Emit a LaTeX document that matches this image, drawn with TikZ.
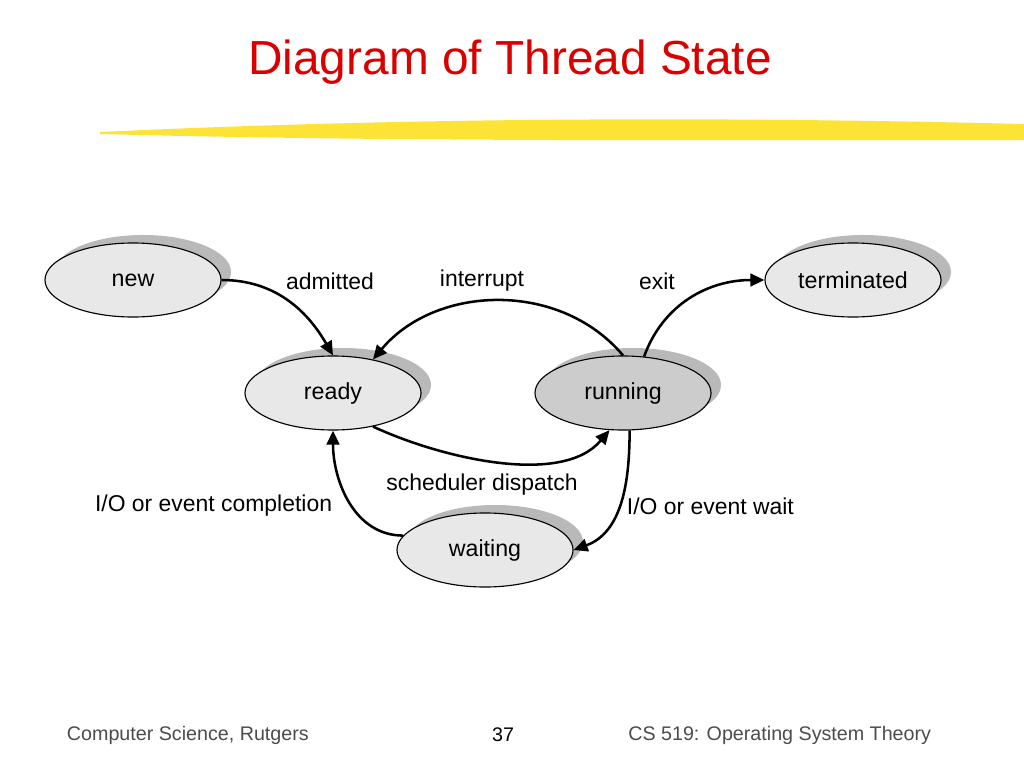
\documentclass[tikz,border=0pt]{standalone}
\usepackage{fontspec}
\setmainfont{Liberation Sans}
\usetikzlibrary{positioning,shapes.geometric,arrows.meta}
\tikzset{
  state/.style={draw, thick, ellipse, fill=gray!18, minimum width=4.4cm, minimum height=1.85cm, font=\fontsize{16.5}{20}\selectfont},
  shade/.style={ellipse, fill=gray!55, minimum width=4.4cm, minimum height=1.85cm},
  lbl/.style={font=\fontsize{16.3}{20}\selectfont},
  foot/.style={font=\fontsize{14}{17}\selectfont},
  trans/.style={-{Triangle[length=10pt,width=9pt]}, line width=1.8pt}
}
\begin{document}
\begin{tikzpicture}[x=0.025cm, y=-0.025cm]
\useasboundingbox[fill=white] (0,0) rectangle (1024,768);
\node[text=red!85!black, font=\fontsize{34}{38}\selectfont] (title) at (510,62) {Diagram of Thread State};
\fill[yellow!80!orange, opacity=0.8] (100,132) .. controls (400,118) and (700,116) .. (1024,124) -- (1024,140) .. controls (700,140) and (400,142) .. (100,134) -- cycle;
% shadows behind the states
\foreach \x/\y in {133/280, 333/393, 853/280, 485/550, 623/393}
  \node[shade] at (\x+10,\y-8) {};
\node[state] (new) at (133,280) {new};
\node[state] (ready) at (333,393) {ready};
\node[state, fill=gray!40] (running) at (623,393) {running};
\node[state] (terminated) at (853,280) {terminated};
\node[state] (waiting) at (485,550) {waiting};
\draw[trans] (new.east) to[out=0, in=120] (ready.north);
\draw[trans] (running.north) to[out=130, in=50] (ready.40);
\draw[trans] (running.60) to[out=70, in=180] (terminated.west);
\draw[trans] (ready.-40) to[out=-25, in=-130, looseness=0.8] (running.-110);
\draw[trans] (running.-80) to[out=-90, in=20] (waiting.east);
\draw[trans] (waiting.170) to[out=180, in=-90] (ready.south);
\node[lbl] (admitted) at (330,281) {admitted};
\node[lbl] (interrupt) at (482,281) {interrupt};
\node[lbl] (exit) at (657,281) {exit};
\node[lbl] (dispatch) at (482,485) {scheduler dispatch};
\node[lbl, anchor=west] (iowait) at (622,506) {I/O or event wait};
\node[lbl, anchor=east] (iocompl) at (337,506) {I/O or event completion};
\node[foot, text=black!70, anchor=west] (footl) at (62,735) {Computer Science, Rutgers};
\node[foot] (page) at (503,735) {37};
\node[foot, text=black!70, anchor=east] (footr) at (936,735) {CS 519: Operating System Theory};
\end{tikzpicture}
\end{document}
